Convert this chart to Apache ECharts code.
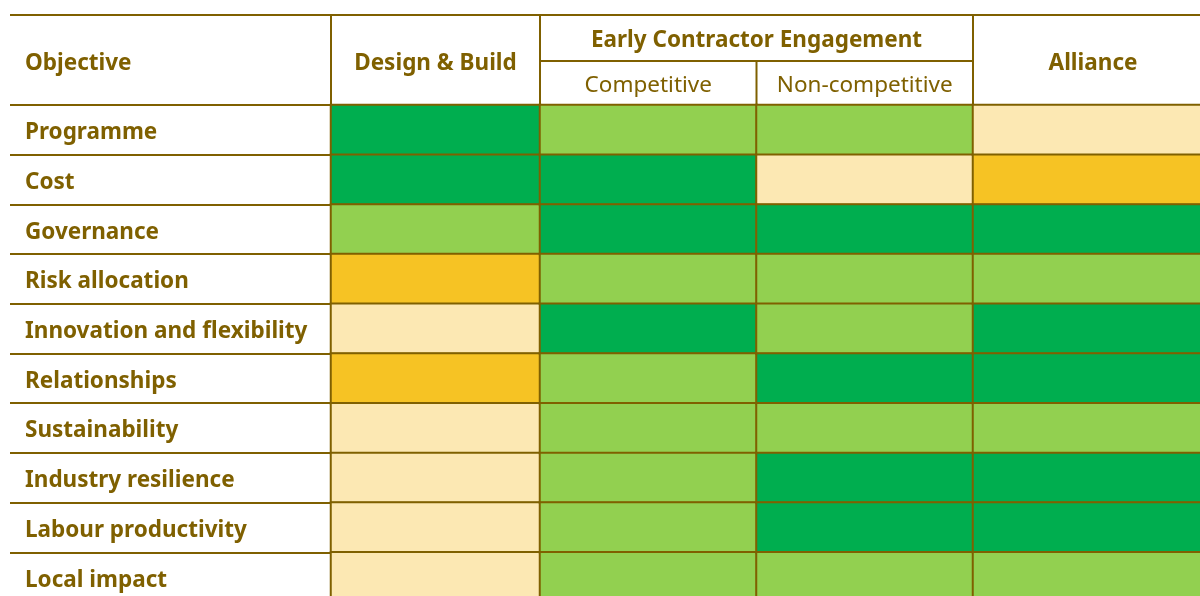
<!DOCTYPE html>
<html><head><meta charset="utf-8">
<script src="https://cdn.jsdelivr.net/npm/echarts@6/dist/echarts.min.js"></script>
<style>html,body{margin:0;padding:0;background:#fff}#c{width:1200px;height:596px}</style>
</head><body><div id="c"></div>
<script>
// Data
const objectives = ['Programme','Cost','Governance','Risk allocation','Innovation and flexibility','Relationships','Sustainability','Industry resilience','Labour productivity','Local impact'];
const models = ['Design & Build','Competitive','Non-competitive','Alliance'];
const groupLabel = 'Early Contractor Engagement';
const firstHeader = 'Objective';
// rating levels: 3 = strong (dark green), 2 = good (light green), 1 = neutral (pale), 0 = weak (amber)
const designBuild    = [3,3,2,0,1,0,1,1,1,1];
const eceCompetitive = [2,3,3,2,3,2,2,2,2,2];
const eceNonCompet   = [2,1,3,2,2,3,2,3,3,2];
const alliance       = [1,0,3,2,3,3,2,3,3,2];

const BROWN = '#7F6000';
const FONT = '"Noto Sans", "Open Sans", sans-serif';
const FS = 22.5;
const toCells = (arrs) => {
  const out = [];
  arrs.forEach((arr, x) => arr.forEach((v, y) => out.push([x, y, v])));
  return out;
};

// layout (pixels)
const TOP = 105, H = 497;
const gx = [10, 331, 540, 973], gw = [321, 209, 433, 240];
const grids = gx.map((l, i) => ({left: l, top: TOP, width: gw[i], height: H, outerBoundsMode: 'none'}));

const catY = (i) => ({gridIndex: i, type: 'category', data: objectives, inverse: true, show: false});
const chart = echarts.init(document.getElementById('c'), null, {renderer:'canvas'});
const hm = (gi, data) => ({
  type: 'heatmap', xAxisIndex: gi, yAxisIndex: gi, data,
  itemStyle: {borderColor: BROWN, borderWidth: 2},
  emphasis: {disabled: true}, label: {show: false}
});
chart.setOption({
  animation: false,
  backgroundColor: '#fff',
  grid: grids,
  xAxis: [
    {gridIndex: 0, type: 'value', show: false},
    {gridIndex: 1, type: 'category', data: [models[0]], show: false},
    {gridIndex: 2, type: 'category', data: [models[1], models[2]], show: false},
    {gridIndex: 3, type: 'category', data: [models[3]], show: false}
  ],
  yAxis: [
    {gridIndex: 0, type: 'category', data: objectives, inverse: true,
     axisLine: {show: false}, axisTick: {show: false},
     axisLabel: {align: 'left', margin: -15, color: BROWN, fontFamily: FONT, fontWeight: 'bold', fontSize: FS,
       formatter: (v) => '{a|' + v + '}',
       rich: {a: {padding: [6, 0, 0, 0], color: BROWN, fontFamily: FONT, fontWeight: 'bold', fontSize: FS}}},
     splitLine: {show: true, lineStyle: {color: BROWN, width: 2}}},
    catY(1), catY(2), catY(3)
  ],
  visualMap: {
    type: 'piecewise', show: false, seriesIndex: [0, 1, 2], dimension: 2,
    pieces: [
      {value: 0, color: '#F6C324'},
      {value: 1, color: '#FCE8B3'},
      {value: 2, color: '#92D050'},
      {value: 3, color: '#00AE4F'}
    ]
  },
  series: [
    hm(1, toCells([designBuild])),
    hm(2, toCells([eceCompetitive, eceNonCompet])),
    hm(3, toCells([alliance]))
  ]
});

// Header
const bx = [gx[1], gx[2], gx[2] + gw[2] / 2, gx[3]];
const topY = 15, midY = 61, hdrBot = TOP;
const ls = {stroke: BROWN, lineWidth: 2};
const g = [];
g.push({type:'line', shape:{x1:10, y1:topY, x2:1200, y2:topY}, style: ls});
g.push({type:'line', shape:{x1:bx[0], y1:topY, x2:bx[0], y2:hdrBot}, style: ls});
g.push({type:'line', shape:{x1:bx[1], y1:topY, x2:bx[1], y2:hdrBot}, style: ls});
g.push({type:'line', shape:{x1:bx[2], y1:midY, x2:bx[2], y2:hdrBot}, style: ls});
g.push({type:'line', shape:{x1:bx[3], y1:topY, x2:bx[3], y2:hdrBot}, style: ls});
g.push({type:'line', shape:{x1:bx[1], y1:midY, x2:bx[3], y2:midY}, style: ls});
const txt = (t, x, y, bold, align) => ({type:'text', x, y: y + 3, style:{text: t, fill: BROWN, font: (bold?'bold ':'') + FS + 'px ' + FONT, textAlign: align || 'center', textVerticalAlign: 'middle'}});
g.push(txt(firstHeader, 25, 61, true, 'left'));
g.push(txt(models[0], (bx[0]+bx[1])/2, 61, true));
g.push(txt(groupLabel, (bx[1]+bx[3])/2, 38, true));
g.push(txt(models[1], (bx[1]+bx[2])/2, 83, false));
g.push(txt(models[2], (bx[2]+bx[3])/2, 83, false));
g.push(txt(models[3], gx[3] + gw[3]/2, 61, true));
chart.setOption({graphic: g});
</script></body></html>
